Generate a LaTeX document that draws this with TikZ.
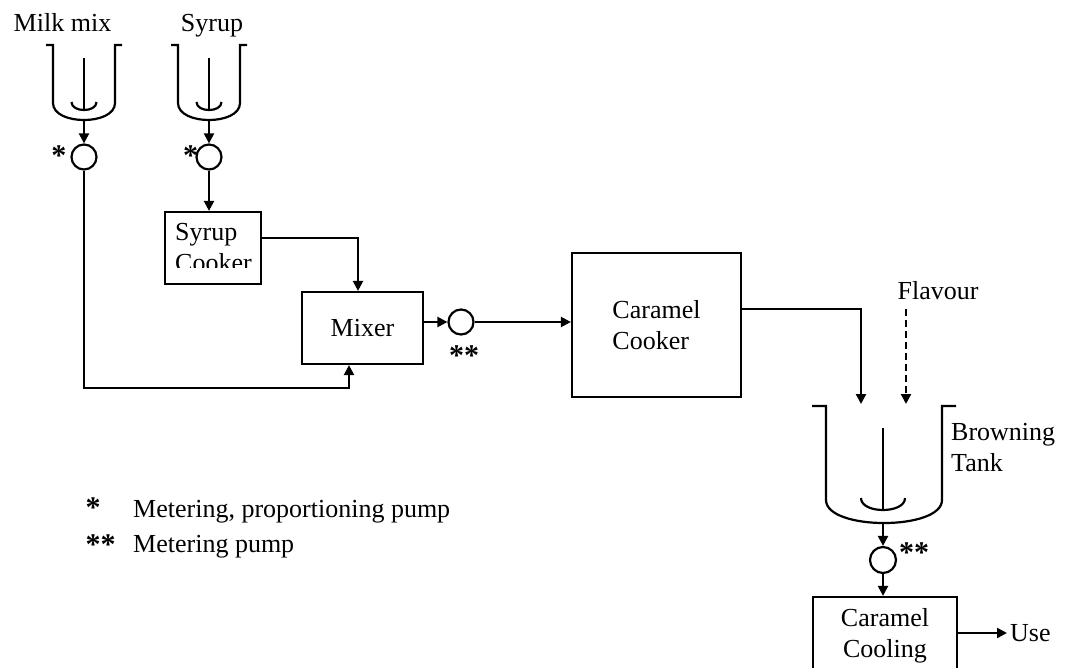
\documentclass[tikz,border=0pt]{standalone}
\usepackage{fontspec}
\setmainfont{Liberation Serif}
\usetikzlibrary{arrows.meta}

\begin{document}
\begin{tikzpicture}[x=1pt,y=-1pt,
	every node/.style={font=\fontsize{26}{31}\selectfont},
	unit/.style={draw,line width=2.2pt,align=left},
	pump/.style={draw,circle,line width=2.2pt,minimum size=25pt,inner sep=0pt},
	flow/.style={line width=2.2pt,-{Triangle[length=10pt,width=10pt]}},
	dashflow/.style={flow,dash pattern=on 7pt off 4pt},
	vessel/.style={line width=2.2pt},
	lbl/.style={inner sep=0pt},
	star/.style={inner sep=0pt,font=\fontsize{30}{31}\selectfont\bfseries}]
	\clip (0,0) rectangle (1065,668);
	% feed tanks
	\foreach \cx in {84,209} {
		\draw[vessel] ({\cx-38},45) -- ({\cx-31},45) -- ({\cx-31},103) .. controls ({\cx-31},125.7) and ({\cx+31},125.7) .. ({\cx+31},103) -- ({\cx+31},45) -- ({\cx+38},45);
		\draw[vessel] (\cx,58) -- (\cx,110);
		\draw[vessel] ({\cx-12.5},102) .. controls ({\cx-12.5},112.7) and ({\cx+12.5},112.7) .. ({\cx+12.5},102);
	}
	\node[anchor=base] (milk) at (62.5,32) {Milk mix};
	\node[anchor=base] (syrup) at (212,32) {Syrup};
	\coordinate (milkout) at (84,120);
	\coordinate (syrupout) at (209,120);
	% browning tank
	\draw[vessel] (812,406) -- (826,406) -- (826,500) .. controls (826,530.7) and (942,530.7) .. (942,500) -- (942,406) -- (956,406);
	\draw[vessel] (883,428) -- (883,510);
	\draw[vessel] (861,498) .. controls (861,514) and (905,514) .. (905,498);
	\node[lbl,anchor=north west,align=left] (browning) at (951,423) {Browning\\Tank};
	\coordinate (brownout) at (883,523);
	\coordinate (browin) at (861,404);
	\coordinate (flavtop) at (906,309);
	\coordinate (flavin) at (906,404);
	\node[anchor=base] (flavour) at (938,299) {Flavour};
	% pumps
	\node[pump] (milkpump) at (84,157) {};
	\node[pump] (syruppump) at (209,157) {};
	\node[pump] (mixpump) at (461,322) {};
	\node[pump,minimum size=26pt] (brownpump) at (883,560) {};
	\node[star,anchor=base] (milkstar) at (58.8,165.7) {*};
	\node[star,anchor=base] (syrupstar) at (190.5,165.7) {*};
	\node[star,anchor=base] (mixstar) at (464,365.6) {**};
	\node[star,anchor=base] (brownstar) at (914,562.6) {**};
	% units
	\node[unit,minimum width=96pt,minimum height=72pt] (syrupck) at (213,248) {};
	\begin{scope}
		\clip (165,212) rectangle (261,268);
		\node[lbl,anchor=north west,align=left] (syrupcktext) at (175,223) {Syrup\\Cooker};
	\end{scope}
	\node[unit,minimum width=121pt,minimum height=72pt] (mixer) at (362.5,328) {Mixer};
	\node[unit,minimum width=169pt,minimum height=144pt] (caramelck) at (656.5,325) {Caramel\\Cooker};
	\node[unit,align=center,minimum width=144pt,minimum height=78pt] (cooling) at (885,636) {Caramel\\Cooling};
	\node[inner sep=3pt,anchor=west] (use) at (1007,633) {Use};
	% connections
	\draw[flow] (milkout) -- (milkpump);
	\draw[flow] (syrupout) -- (syruppump);
	\draw[flow] (syruppump) -- (syruppump |- syrupck.north);
	\draw[flow] ([yshift=10pt]syrupck.east) -| ([xshift=-4.5pt]mixer.north);
	\draw[flow] (milkpump) |- ([xshift=-13.5pt,yshift=-23pt]mixer.south) -- ([xshift=-13.5pt]mixer.south);
	\draw[flow] (mixer.east |- mixpump) -- (mixpump);
	\draw[flow] (mixpump) -- (mixpump -| caramelck.west);
	\draw[flow] ([yshift=16pt]caramelck.east) -| (browin);
	\draw[dashflow] (flavtop) -- (flavin);
	\draw[flow] (brownout) -- (brownpump);
	\draw[flow] (brownpump) -- (brownpump |- cooling.north);
	\draw[flow] (cooling.east |- use.west) -- (use.west);
	% legend
	\node[star,anchor=base west] (key1) at (85.3,517.6) {*};
	\node[star,anchor=base west] (key2) at (85.3,554.6) {**};
	\node[lbl,anchor=base west] (keytext1) at (133,517) {Metering, proportioning pump};
	\node[lbl,anchor=base west] (keytext2) at (133,552) {Metering pump};
\end{tikzpicture}
\end{document}
